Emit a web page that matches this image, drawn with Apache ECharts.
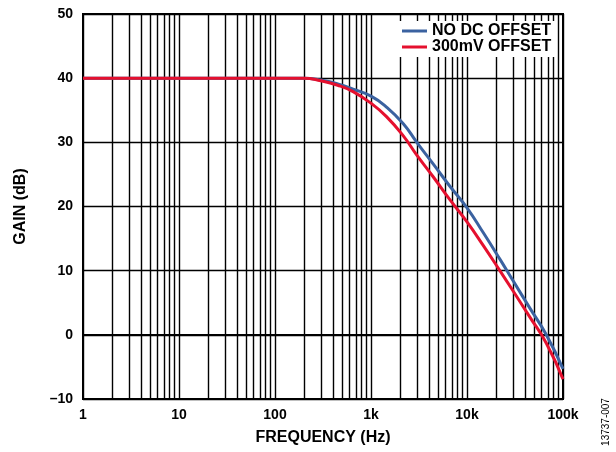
<!DOCTYPE html>
<html>
<head>
<meta charset="utf-8">
<script src="https://cdn.jsdelivr.net/npm/echarts@6/dist/echarts.min.js"></script>
<style>
  html, body { margin: 0; padding: 0; background: #fff; }
  #chart { width: 616px; height: 452px; }
</style>
</head>
<body>
<div id="chart"></div>
<script>
// Frequency points (Hz) where the gain was sampled
const freqHz = [1, 10, 100, 200, 300, 450, 650, 1000, 1450, 2170, 3000, 4460, 6600, 10000, 14800, 22000, 30000, 45000, 67000, 100000];
// Gain (dB) with no DC offset applied
const gainNoOffset = [40, 40, 40, 40, 39.7, 39.1, 38.3, 37.2, 35.5, 32.9, 30.0, 26.6, 23.2, 19.8, 15.9, 11.8, 8.5, 4.2, 0.0, -5.3];
// Gain (dB) with a 300 mV offset applied
const gain300mV = [40, 40, 40, 40, 39.6, 38.9, 37.9, 36.1, 34.0, 31.0, 28.0, 24.6, 21.1, 17.6, 13.9, 10.0, 6.9, 2.8, -1.3, -6.9];

const seriesNames = ['NO DC OFFSET', '300mV OFFSET'];
const seriesColors = ['#3b62a0', '#e5102e'];
const xTickLabels = { 1: '1', 10: '10', 100: '100', 1000: '1k', 10000: '10k', 100000: '100k' };

// Minor log grid lines (2..9 within each decade)
const minorLines = [];
for (let d = 1; d <= 10000; d *= 10) {
  for (let k = 2; k <= 9; k++) minorLines.push({ xAxis: k * d });
}

const pairs = (ys) => freqHz.map((f, i) => [f, ys[i]]);
const font = 'Liberation Sans, Arial, sans-serif';

const chart = echarts.init(document.getElementById('chart'), null, { renderer: 'canvas' });
chart.setOption({
  animation: false,
  backgroundColor: '#fff',
  grid: {
    left: 83, right: 53, top: 14, bottom: 53,
    show: true, borderColor: '#000', borderWidth: 2, backgroundColor: 'transparent'
  },
  legend: {
    data: seriesNames,
    orient: 'vertical',
    left: 397, top: 21,
    backgroundColor: '#fff',
    padding: [2, 4, 2, 5],
    itemGap: 0,
    itemWidth: 25, itemHeight: 3,
    icon: 'rect',
    textStyle: { fontFamily: font, fontWeight: 'bold', fontSize: 16, color: '#000', lineHeight: 14 },
    z: 10
  },
  xAxis: {
    type: 'log', logBase: 10, min: 1, max: 100000,
    name: 'FREQUENCY (Hz)', nameLocation: 'middle', nameGap: 31,
    nameTextStyle: { fontFamily: font, fontWeight: 'bold', fontSize: 16, color: '#000' },
    axisLine: { show: true, lineStyle: { color: '#000', width: 2 } },
    axisTick: { show: false },
    axisLabel: {
      margin: 9, fontFamily: font, fontWeight: 'bold', fontSize: 14, color: '#000',
      formatter: (v) => xTickLabels[Math.round(v)] || ''
    },
    splitLine: { show: true, lineStyle: { color: '#000', width: 1.4 } }
  },
  yAxis: {
    type: 'value', min: -10, max: 50, interval: 10,
    name: 'GAIN (dB)', nameLocation: 'middle', nameGap: 54, nameRotate: 90,
    nameTextStyle: { fontFamily: font, fontWeight: 'bold', fontSize: 16, color: '#000' },
    axisLine: { show: true, lineStyle: { color: '#000', width: 2 } },
    axisTick: { show: false },
    axisLabel: {
      margin: 10, fontFamily: font, fontWeight: 'bold', fontSize: 14, color: '#000',
      formatter: (v) => String(v).replace('-', '\u2013')
    },
    splitLine: { show: true, lineStyle: { color: '#000', width: 1.4 } }
  },
  graphic: [{
    type: 'text',
    x: 606, y: 422,
    rotation: Math.PI / 2,
    style: { text: '13737-007', fontFamily: font, fontSize: 10, fill: '#000', align: 'center', verticalAlign: 'middle' }
  }],
  series: [
    {
      name: seriesNames[0], type: 'line', smooth: 0.5, showSymbol: false,
      data: pairs(gainNoOffset),
      lineStyle: { color: seriesColors[0], width: 3 }, itemStyle: { color: seriesColors[0] },
      markLine: {
        silent: true, symbol: 'none', label: { show: false },
        lineStyle: { color: '#000', width: 1.4, type: 'solid' },
        data: minorLines, z: 1
      },
      z: 3
    },
    {
      name: seriesNames[1], type: 'line', smooth: 0.5, showSymbol: false,
      data: pairs(gain300mV),
      lineStyle: { color: seriesColors[1], width: 3 }, itemStyle: { color: seriesColors[1] },
      z: 4
    }
  ]
});
</script>
</body>
</html>
